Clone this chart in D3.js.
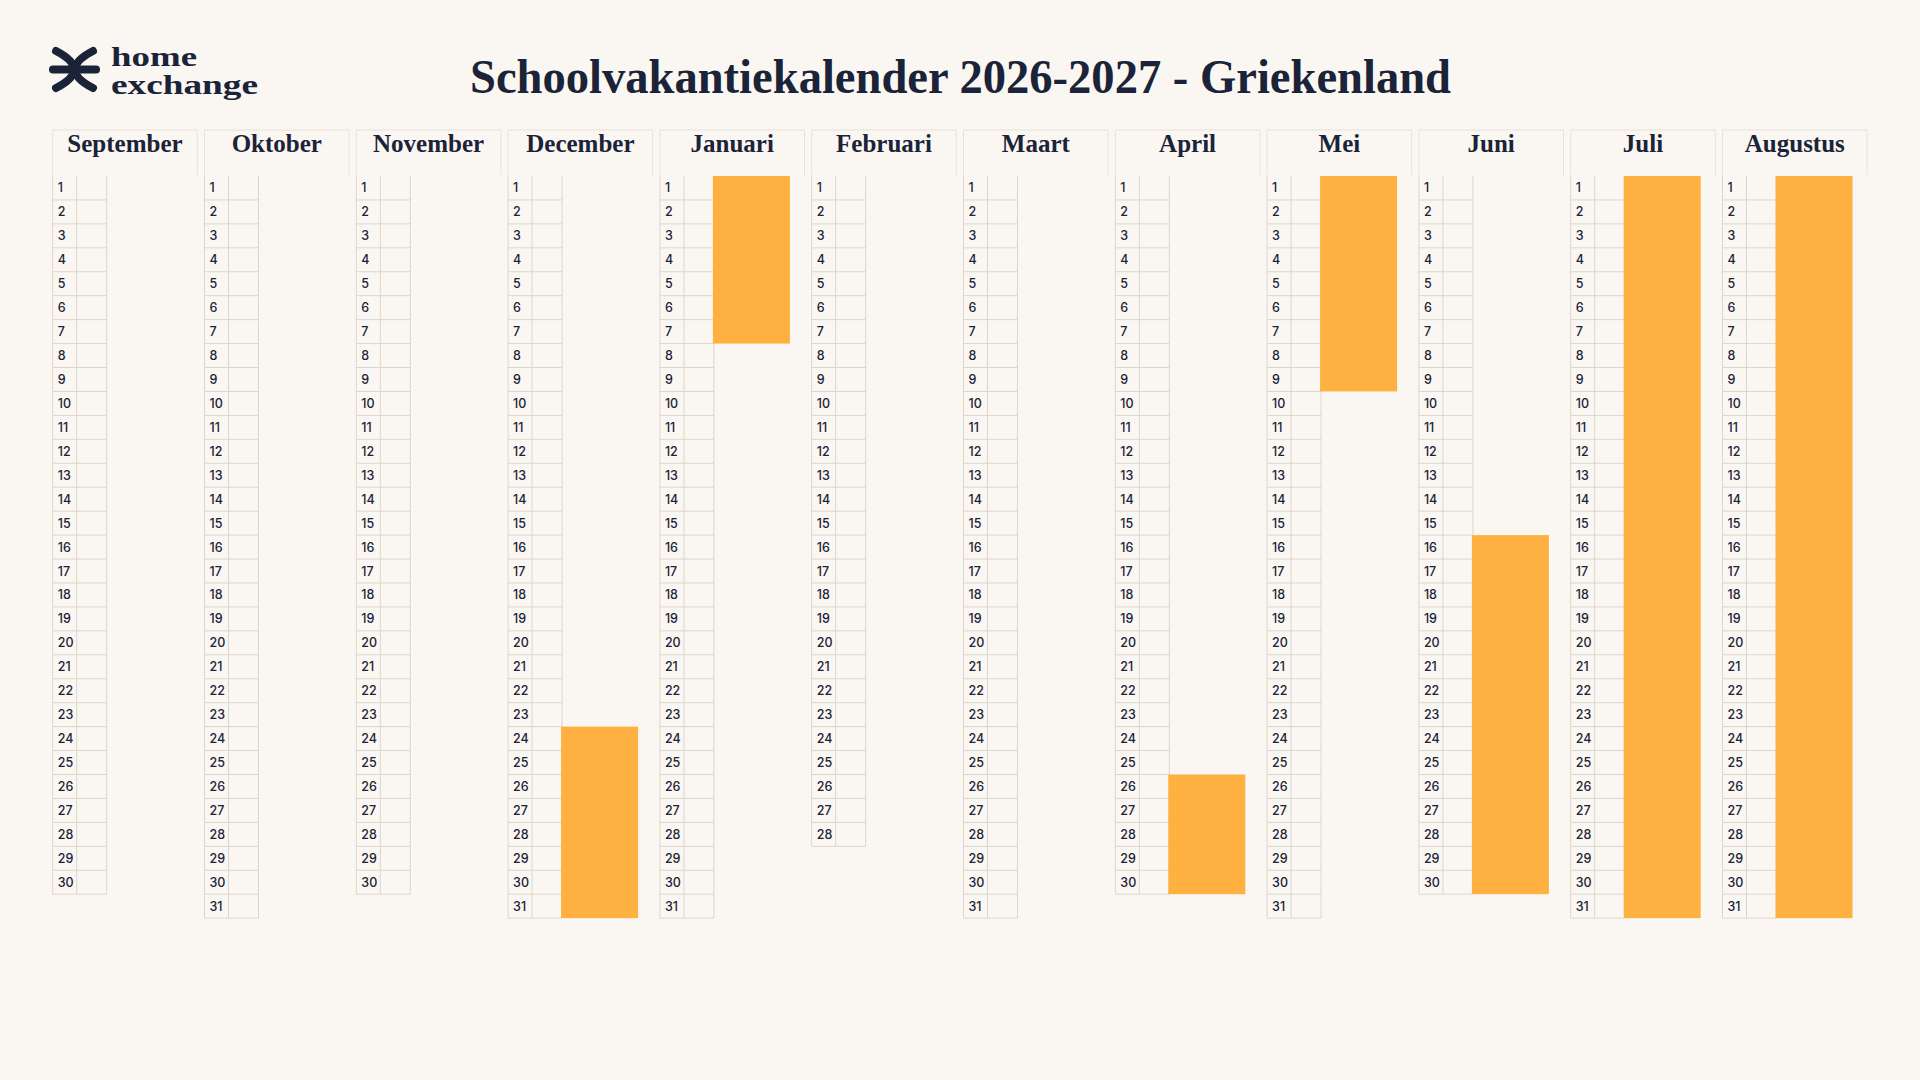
<!DOCTYPE html>
<html>
<head>
<meta charset="utf-8">
<script src="https://cdn.jsdelivr.net/npm/d3@7"></script>
<style>
  html, body { margin: 0; padding: 0; background: #faf7f2; }
  svg { display: block; }
</style>
</head>
<body>
<script>
// months of the school year and their lengths
const months = ["September", "Oktober", "November", "December", "Januari", "Februari",
                "Maart", "April", "Mei", "Juni", "Juli", "Augustus"];
const daysInMonth = [30, 31, 30, 31, 31, 28, 31, 30, 31, 30, 31, 31];
const days = d3.range(1, 32);

// holiday periods (month, first day, last day)
const holidayMonth = ["December", "Januari", "April", "Mei", "Juni", "Juli", "Augustus"];
const holidayStart = [24, 1, 26, 1, 16, 1, 1];
const holidayEnd   = [31, 7, 30, 9, 30, 31, 31];

const title = "Schoolvakantiekalender 2026-2027 - Griekenland";

const W = 1920, H = 1080;
const navy = "#1b2338", orange = "#feb140", grid = "#dcd5cb", headLine = "#e7e1d9";

const svg = d3.select("body").append("svg")
    .attr("width", W).attr("height", H);

svg.append("rect").attr("width", W).attr("height", H).attr("fill", "#faf7f2");

const x = d3.scaleBand()
    .domain(months)
    .range([52.7, 52.7 + 11 * 151.8 + 144.6])
    .paddingInner(7.2 / 151.8)
    .paddingOuter(0);

const y = d3.scaleBand()
    .domain(days)
    .range([176, 176 + 31 * 23.94]);

const numW = 24, cellW = 54, barX = 53, barW = 77;

// logo
const logo = svg.append("g").attr("transform", "translate(52,48)");
logo.append("path").attr("d", "M4,3 Q40,21.5 4,40")
    .attr("fill", "none").attr("stroke", navy).attr("stroke-width", 8).attr("stroke-linecap", "round");
logo.append("path").attr("d", "M41,3 Q5,21.5 41,40")
    .attr("fill", "none").attr("stroke", navy).attr("stroke-width", 8).attr("stroke-linecap", "round");
logo.append("path").attr("d", "M1,21.5 L44,21.5")
    .attr("stroke", navy).attr("stroke-width", 8).attr("stroke-linecap", "round");
svg.append("text").attr("x", 111).attr("y", 66).text("home")
    .attr("font-family", "Liberation Serif").attr("font-weight", "bold").attr("font-size", 27)
    .attr("textLength", 86).attr("lengthAdjust", "spacingAndGlyphs").attr("fill", navy);
svg.append("text").attr("x", 111).attr("y", 94).text("exchange")
    .attr("font-family", "Liberation Serif").attr("font-weight", "bold").attr("font-size", 27)
    .attr("textLength", 147).attr("lengthAdjust", "spacingAndGlyphs").attr("fill", navy);

// title
svg.append("text").attr("x", 470).attr("y", 93).text(title)
    .attr("font-family", "Liberation Serif").attr("font-weight", "bold").attr("font-size", 49)
    .attr("textLength", 981).attr("lengthAdjust", "spacingAndGlyphs").attr("fill", navy);

// month columns
const cols = svg.selectAll("g.month")
    .data(months.map((m, i) => ({ name: m, n: daysInMonth[i] })))
    .join("g").attr("class", "month")
    .attr("transform", d => `translate(${x(d.name)},0)`);

// header box (top, left, right sides)
cols.append("path")
    .attr("d", `M0,175 L0,130 L${x.bandwidth()},130 L${x.bandwidth()},175`)
    .attr("fill", "none").attr("stroke", headLine).attr("stroke-width", 1);

cols.append("text")
    .attr("x", x.bandwidth() / 2).attr("y", 152)
    .attr("text-anchor", "middle")
    .attr("font-family", "Liberation Serif").attr("font-weight", "bold").attr("font-size", 25)
    .attr("fill", navy)
    .text(d => d.name);

// day grid
cols.each(function (d) {
  const g = d3.select(this);
  const md = days.slice(0, d.n);
  const top = y(1), bottom = y(d.n) + y.bandwidth();
  [0, numW, cellW].forEach(vx => {
    g.append("line").attr("x1", vx).attr("x2", vx).attr("y1", top).attr("y2", bottom)
        .attr("stroke", grid).attr("stroke-width", 1);
  });
  g.selectAll("line.row").data(md).join("line").attr("class", "row")
      .attr("x1", 0).attr("x2", cellW)
      .attr("y1", k => y(k) + y.bandwidth()).attr("y2", k => y(k) + y.bandwidth())
      .attr("stroke", grid).attr("stroke-width", 1);
  g.selectAll("text.day").data(md).join("text").attr("class", "day")
      .attr("x", 5).attr("y", k => y(k) + y.bandwidth() / 2 + 4.5)
      .attr("font-family", "Inter").attr("font-weight", 500).attr("font-size", 12.5)
      .attr("fill", navy)
      .text(k => k);
});

// holiday bars
svg.selectAll("rect.holiday")
    .data(holidayMonth.map((m, i) => ({ m, s: holidayStart[i], e: holidayEnd[i] })))
    .join("rect").attr("class", "holiday")
    .attr("x", d => x(d.m) + barX)
    .attr("y", d => y(d.s))
    .attr("width", barW)
    .attr("height", d => y(d.e) + y.bandwidth() - y(d.s))
    .attr("fill", orange);
</script>
</body>
</html>
